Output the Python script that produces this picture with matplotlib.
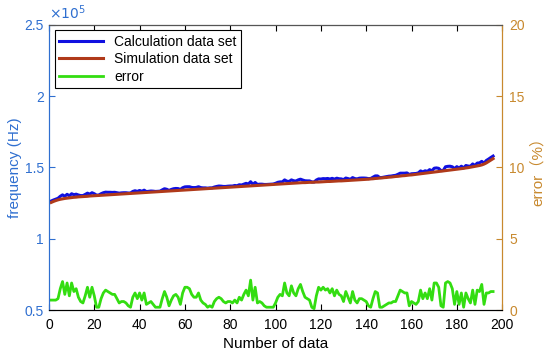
import numpy as np
import matplotlib
matplotlib.use("Agg")
from matplotlib import pyplot as plt

plt.rcParams['font.family'] = ['Liberation Sans', 'Noto Sans CJK SC', 'DejaVu Sans']

# frequency, in units of 1e5 Hz
simulation = [
    1.255, 1.262, 1.268, 1.273, 1.277, 1.280, 1.283, 1.285, 1.287, 1.289,
    1.291, 1.292, 1.294, 1.295, 1.296, 1.297, 1.298, 1.300, 1.301, 1.302,
    1.303, 1.304, 1.305, 1.306, 1.307, 1.308, 1.309, 1.310, 1.311, 1.312,
    1.313, 1.314, 1.315, 1.316, 1.317, 1.318, 1.319, 1.320, 1.321, 1.322,
    1.323, 1.324, 1.325, 1.326, 1.327, 1.328, 1.329, 1.330, 1.331, 1.332,
    1.333, 1.334, 1.335, 1.336, 1.337, 1.338, 1.339, 1.340, 1.341, 1.342,
    1.343, 1.344, 1.345, 1.346, 1.347, 1.348, 1.349, 1.350, 1.351, 1.352,
    1.353, 1.354, 1.355, 1.356, 1.357, 1.358, 1.359, 1.360, 1.361, 1.362,
    1.363, 1.364, 1.365, 1.366, 1.367, 1.368, 1.369, 1.370, 1.371, 1.372,
    1.373, 1.374, 1.375, 1.376, 1.377, 1.378, 1.379, 1.380, 1.381, 1.382,
    1.383, 1.384, 1.385, 1.386, 1.387, 1.388, 1.389, 1.390, 1.391, 1.392,
    1.393, 1.394, 1.394, 1.395, 1.396, 1.396, 1.397, 1.398, 1.398, 1.399,
    1.400, 1.401, 1.402, 1.402, 1.403, 1.404, 1.405, 1.406, 1.406, 1.407,
    1.408, 1.409, 1.410, 1.411, 1.412, 1.413, 1.414, 1.415, 1.416, 1.417,
    1.418, 1.420, 1.421, 1.423, 1.424, 1.426, 1.427, 1.429, 1.430, 1.432,
    1.433, 1.435, 1.437, 1.438, 1.440, 1.442, 1.443, 1.445, 1.447, 1.448,
    1.450, 1.452, 1.454, 1.456, 1.458, 1.460, 1.462, 1.464, 1.466, 1.468,
    1.470, 1.472, 1.474, 1.476, 1.478, 1.480, 1.482, 1.484, 1.486, 1.488,
    1.490, 1.492, 1.494, 1.497, 1.499, 1.502, 1.505, 1.508, 1.511, 1.514,
    1.518, 1.524, 1.532, 1.542, 1.552, 1.562,
]

calculation = [
    1.265, 1.272, 1.278, 1.284, 1.298, 1.308, 1.298, 1.312, 1.301, 1.316,
    1.309, 1.313, 1.307, 1.303, 1.303, 1.311, 1.320, 1.313, 1.323, 1.316,
    1.306, 1.307, 1.316, 1.323, 1.327, 1.326, 1.326, 1.325, 1.326, 1.323,
    1.320, 1.322, 1.323, 1.323, 1.321, 1.321, 1.332, 1.337, 1.332, 1.339,
    1.333, 1.341, 1.331, 1.333, 1.335, 1.334, 1.332, 1.333, 1.334, 1.343,
    1.351, 1.347, 1.339, 1.346, 1.351, 1.353, 1.352, 1.346, 1.358, 1.364,
    1.365, 1.365, 1.360, 1.359, 1.360, 1.365, 1.359, 1.357, 1.357, 1.355,
    1.357, 1.357, 1.363, 1.367, 1.370, 1.369, 1.367, 1.367, 1.369, 1.370,
    1.370, 1.374, 1.372, 1.379, 1.377, 1.383, 1.389, 1.384, 1.400, 1.382,
    1.395, 1.381, 1.383, 1.383, 1.381, 1.381, 1.382, 1.383, 1.384, 1.389,
    1.396, 1.399, 1.399, 1.413, 1.404, 1.402, 1.413, 1.407, 1.405, 1.413,
    1.418, 1.412, 1.407, 1.406, 1.406, 1.399, 1.398, 1.412, 1.420, 1.419,
    1.422, 1.421, 1.423, 1.419, 1.424, 1.418, 1.425, 1.421, 1.420, 1.415,
    1.426, 1.422, 1.417, 1.429, 1.422, 1.420, 1.425, 1.426, 1.426, 1.425,
    1.422, 1.423, 1.432, 1.441, 1.441, 1.429, 1.430, 1.433, 1.436, 1.439,
    1.440, 1.443, 1.445, 1.452, 1.460, 1.460, 1.460, 1.462, 1.451, 1.456,
    1.457, 1.458, 1.462, 1.476, 1.469, 1.477, 1.473, 1.485, 1.476, 1.495,
    1.497, 1.494, 1.478, 1.479, 1.505, 1.508, 1.509, 1.505, 1.492, 1.506,
    1.496, 1.509, 1.497, 1.514, 1.510, 1.509, 1.525, 1.514, 1.531, 1.532,
    1.543, 1.530, 1.549, 1.559, 1.570, 1.580,
]

# relative error in %
error = [
    0.7, 0.7, 0.7, 0.8, 1.5, 2.0, 1.1, 1.9, 1.0, 1.9,
    1.3, 1.5, 0.9, 0.6, 0.5, 1.0, 1.6, 0.9, 1.6, 1.0,
    0.2, 0.2, 0.8, 1.2, 1.4, 1.3, 1.2, 1.1, 1.1, 0.8,
    0.5, 0.6, 0.6, 0.5, 0.3, 0.2, 0.9, 1.2, 0.8, 1.2,
    0.7, 1.2, 0.4, 0.5, 0.6, 0.4, 0.2, 0.2, 0.2, 0.8,
    1.3, 0.9, 0.3, 0.7, 1.0, 1.1, 0.9, 0.4, 1.2, 1.6,
    1.6, 1.5, 1.1, 0.9, 0.9, 1.2, 0.7, 0.5, 0.4, 0.2,
    0.3, 0.2, 0.6, 0.8, 0.9, 0.8, 0.6, 0.5, 0.6, 0.6,
    0.5, 0.7, 0.5, 0.9, 0.7, 1.1, 1.4, 1.0, 2.1, 0.7,
    1.6, 0.5, 0.6, 0.5, 0.3, 0.2, 0.2, 0.2, 0.2, 0.5,
    0.9, 1.1, 1.0, 1.9, 1.2, 1.0, 1.7, 1.2, 1.0, 1.5,
    1.8, 1.3, 0.9, 0.8, 0.7, 0.2, 0.1, 1.0, 1.6, 1.4,
    1.6, 1.4, 1.5, 1.2, 1.5, 1.0, 1.4, 1.1, 1.0, 0.6,
    1.3, 0.9, 0.5, 1.3, 0.7, 0.5, 0.8, 0.8, 0.7, 0.6,
    0.3, 0.2, 0.8, 1.3, 1.2, 0.2, 0.2, 0.3, 0.4, 0.5,
    0.5, 0.6, 0.6, 1.0, 1.4, 1.3, 1.2, 1.2, 0.3, 0.6,
    0.5, 0.4, 0.6, 1.4, 0.8, 1.2, 0.8, 1.5, 0.7, 1.9,
    1.9, 1.6, 0.3, 0.2, 1.9, 2.0, 1.9, 1.5, 0.4, 1.3,
    0.4, 1.2, 0.2, 1.2, 0.8, 0.5, 1.4, 0.4, 1.4, 1.3,
    1.8, 0.4, 1.2, 1.2, 1.3, 1.3,
]

index = np.arange(1, len(simulation) + 1)

left_color = '#2F6FD0'
right_color = '#C8892E'

fig = plt.figure(figsize=(5.5, 3.56), dpi=100)
ax = fig.add_axes([0.089, 0.129, 0.824, 0.801])
ax2 = ax.twinx()

l1, = ax.plot(index, calculation, color='#1010E0', lw=2.2, label='Calculation data set')
l2, = ax.plot(index, simulation, color='#B03A1A', lw=2.2, label='Simulation data set')
l3, = ax2.plot(index, error, color='#33DD11', lw=2.0, label='error')

ax.set_xlim(0, 200)
ax.set_ylim(0.5, 2.5)
ax.set_yticks([0.5, 1, 1.5, 2, 2.5])
ax.set_yticklabels(['0.5', '1', '1.5', '2', '2.5'])
ax.set_xticks(range(0, 201, 20))
ax2.set_ylim(0, 20)
ax2.set_yticks(range(0, 21, 5))

ax.tick_params(axis='x', direction='in', top=True, labelsize=10, length=4, pad=6)
ax.tick_params(axis='y', direction='in', colors=left_color, labelsize=10, length=4)
ax2.tick_params(axis='y', direction='in', colors=right_color, labelsize=10, length=4, pad=5)

ax.set_xlabel('Number of data', fontsize=11, labelpad=3)
ax.set_ylabel('frequency (Hz)', fontsize=11, color=left_color, labelpad=2)
ax2.set_ylabel('error（%）', fontsize=11, color=right_color, labelpad=4)

ax.text(0.0, 1.01, r'$\times10^5$', transform=ax.transAxes, color=left_color,
        fontsize=10, ha='left', va='bottom')

for side in ['top', 'bottom']:
    ax2.spines[side].set_color('#555555')
ax2.spines['left'].set_color(left_color)
ax2.spines['right'].set_color(right_color)
ax.spines['left'].set_color(left_color)
ax.spines['right'].set_color(right_color)
ax2.spines['bottom'].set_color('black')

leg = ax2.legend([l1, l2, l3], [l.get_label() for l in [l1, l2, l3]], loc='upper left',
                 fontsize=10, fancybox=False, edgecolor='black', framealpha=1,
                 borderaxespad=0.4, handlelength=3.2, labelspacing=0.25,
                 borderpad=0.3)
leg.get_frame().set_linewidth(0.8)

fig.savefig('out.png', dpi=100)
